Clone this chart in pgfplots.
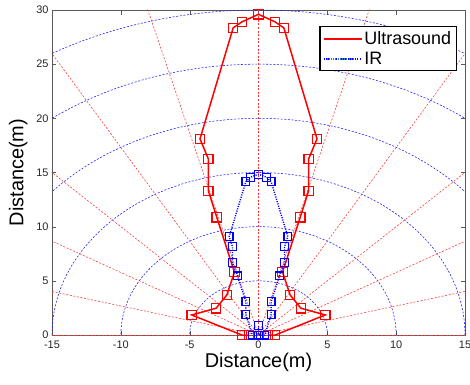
\documentclass[border=0pt]{standalone}
\usepackage{pgfplots}
\pgfplotsset{compat=1.18}
\usepackage{pgfplotstable}
\usepackage{fontspec}
\setmainfont{Liberation Sans}

\tikzset{
  gridb/.style={blue!90, line width=0.55bp, dash pattern=on 2bp off 1.6bp},
  gridr/.style={red!80, line width=0.55bp, dash pattern=on 2bp off 1.6bp},
}

\pgfplotstableread{
x y
0.68 0
1.21 0
4.85 1.85
3.08 2.47
2.30 3.69
1.75 5.8
3.03 10.87
3.64 13.3
3.64 16.25
4.25 18.1
1.84 28.35
1.21 28.9
0 29.6
-1.21 28.9
-1.84 28.35
-4.25 18.1
-3.64 16.25
-3.64 13.3
-3.03 10.87
-1.75 5.8
-2.30 3.69
-3.08 2.47
-4.85 1.85
-1.21 0
-0.68 0
}\ultrasound

\pgfplotstableread{
x y
0 0.85
0 0
0.45 0
0.92 1.9
0.92 3.1
1.53 5.45
1.89 6.67
1.89 8.15
2.13 9.08
0.92 14.15
0.6 14.56
0 14.84
-0.6 14.56
-0.92 14.15
-2.13 9.08
-1.89 8.15
-1.89 6.67
-1.53 5.45
-0.92 3.1
-0.92 1.9
-0.45 0
}\irdata

\definecolor{irlegend}{RGB}{40,120,210}

\begin{document}
\begin{tikzpicture}
\path[use as bounding box] (-52bp,-50bp) rectangle (418bp,335bp);
\begin{axis}[
  at={(0,0)}, anchor=south west,
  scale only axis, width=413bp, height=325bp,
  xmin=-15, xmax=15, ymin=0, ymax=30,
  xtick={-15,-10,-5,0,5,10,15}, ytick={0,5,10,15,20,25,30},
  tick align=inside, major tick length=4.5bp,
  axis line style={black!65}, tick style={black!65},
  ticklabel style={font=\fontsize{11}{13}\selectfont, text=black!85},
  xticklabel style={yshift=-2.5bp},
  /pgf/number format/assume math mode=true,
  xlabel={Distance(m)}, ylabel={Distance(m)},
  label style={font=\fontsize{20}{24}\selectfont},
  xlabel style={at={(axis description cs:0.5,-0.083)}, anchor=center},
  ylabel style={at={(axis description cs:-0.082,0.5)}, anchor=center},
  legend style={at={(rel axis cs:0.98,0.951)}, anchor=north east,
    font=\fontsize{18}{21}\selectfont, draw=black, line width=1.2bp,
    inner xsep=3bp, inner ysep=3bp, row sep=2bp},
  legend cell align=left,
]
\pgfplotsinvokeforeach{5,10,15,20,25,30}{
  \draw[gridb] (axis cs:0,0) ellipse [x radius=#1, y radius=#1];
}
\pgfplotsinvokeforeach{0,15,30,45,60,75,90,105,120,135,150,165,180}{
  \draw[gridr] (axis cs:0,0) -- (axis cs:{45*cos(#1)},{45*sin(#1)});
}
\addplot[red, line width=1.5bp, mark=none,
  legend image code/.code={\path (0bp,0bp) -- (38bp,0bp); \draw[red, line width=1.5bp] (3bp,0bp) -- (31bp,0bp);}] table {\ultrasound};
\addlegendentry{Ultrasound}
\addplot[blue, line width=1.4bp, dash pattern=on 1.1bp off 1.3bp, mark=none,
  legend image code/.code={\path (0bp,0bp) -- (38bp,0bp); \draw[irlegend, line width=1.3bp, dash pattern=on 1bp off 1.2bp] (3bp,0bp) -- (31bp,0bp);}] table {\irdata};
\addlegendentry{IR}
\addplot[red, only marks, mark=square, mark size=4.7bp, mark options={line width=1.2bp, solid}, forget plot] table {\ultrasound};
\addplot[blue, only marks, mark=square, mark size=3.9bp, mark options={line width=1.2bp, solid}, forget plot] table {\irdata};
\end{axis}
\end{tikzpicture}
\end{document}
